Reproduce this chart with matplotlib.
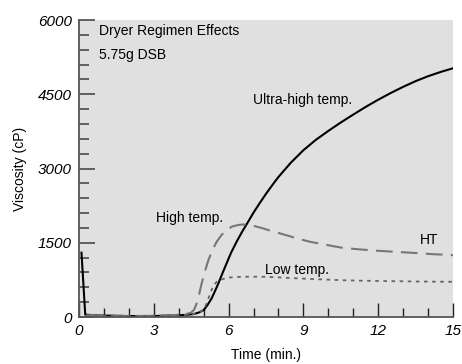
import numpy as np
import matplotlib.pyplot as plt
from matplotlib.ticker import MultipleLocator

# data
t_uht = [0.1, 0.25, 0.5, 1, 2, 3, 4, 4.3, 4.6, 4.8, 5.0, 5.15, 5.32, 5.45, 5.59, 5.75, 5.92, 6.1, 6.32, 6.55, 6.79, 7.0, 7.26, 7.5, 7.79, 8.0, 8.5, 9.0, 9.5, 10.0, 10.5, 11.0, 11.5, 12.0, 12.5, 13.0, 13.5, 14.0, 14.5, 15.0]
v_uht = [1300, 50, 40, 30, 20, 20, 35, 45, 60, 90, 140, 240, 377, 520, 680, 880, 1085, 1300, 1520, 1730, 1930, 2110, 2310, 2490, 2690, 2830, 3120, 3370, 3580, 3760, 3930, 4090, 4245, 4390, 4525, 4650, 4765, 4865, 4950, 5025]

t_ht = [0.3, 1, 2, 3, 4, 4.3, 4.5, 4.62, 4.72, 4.82, 4.92, 5.05, 5.19, 5.35, 5.52, 5.72, 5.92, 6.15, 6.39, 6.6, 6.86, 7.1, 7.39, 7.7, 8.06, 8.4, 8.73, 9.27, 10.0, 10.6, 11.3, 11.94, 12.6, 13.28, 14.2, 15.0]
v_ht = [40, 30, 20, 25, 45, 60, 90, 150, 275, 460, 680, 920, 1150, 1350, 1520, 1660, 1760, 1830, 1860, 1870, 1860, 1830, 1790, 1740, 1690, 1640, 1590, 1520, 1450, 1395, 1365, 1340, 1320, 1300, 1270, 1250]

t_lt = [0.3, 1, 2, 3, 4, 4.3, 4.6, 4.8, 5.0, 5.12, 5.25, 5.39, 5.52, 5.66, 5.85, 6.06, 6.4, 6.73, 7.3, 8.06, 8.6, 9.5, 10.5, 11.27, 12.5, 13.5, 15.0]
v_lt = [40, 30, 20, 25, 35, 45, 60, 90, 150, 275, 460, 640, 710, 750, 780, 800, 810, 815, 815, 800, 785, 765, 745, 735, 725, 718, 712]

fig = plt.figure(figsize=(4.62, 3.64), dpi=100)
ax = fig.add_axes([0.171, 0.129, 0.8095, 0.816])
ax.set_facecolor('#e0e0e0')

ax.plot(t_uht, v_uht, color='black', lw=1.5)
ax.plot(t_ht, v_ht, color='#777777', lw=1.5, dashes=(8, 4))
ax.plot(t_lt, v_lt, color='#666666', lw=1.3, dashes=(2, 2.5))

ax.set_xlim(0, 15)
ax.set_ylim(0, 6000)
ax.xaxis.set_major_locator(MultipleLocator(3))
ax.xaxis.set_minor_locator(MultipleLocator(1))
ax.yaxis.set_major_locator(MultipleLocator(1500))
ax.yaxis.set_minor_locator(MultipleLocator(300))

for s in ['top', 'right']:
    ax.spines[s].set_visible(False)
for s in ['left', 'bottom']:
    ax.spines[s].set_color('#555555')
    ax.spines[s].set_linewidth(1.3)

ax.tick_params(axis='y', which='major', direction='in', length=11.5, width=1.3, color='#555555', pad=5)
ax.tick_params(axis='y', which='minor', direction='in', length=7, width=1.3, color='#555555')
ax.tick_params(axis='x', which='major', direction='in', length=10, width=1.0, color='#222222', pad=5)
ax.tick_params(axis='x', which='minor', direction='in', length=6.5, width=1.0, color='#222222')

for lab in ax.get_xticklabels() + ax.get_yticklabels():
    lab.set_fontstyle('italic')
    lab.set_fontsize(11)
    lab.set_family('Liberation Sans')

ax.set_xlabel('Time (min.)', fontsize=10, family='Liberation Sans', labelpad=7)
ax.set_ylabel('Viscosity (cP)', fontsize=10, family='Liberation Sans', labelpad=8)

txt = dict(fontsize=10, family='Liberation Sans', va='center', ha='left')
ax.text(0.8, 5780, 'Dryer Regimen Effects', **txt)
ax.text(0.8, 5300, '5.75g DSB', **txt)
ax.text(6.98, 4380, 'Ultra-high temp.', **txt)
ax.text(3.09, 2000, 'High temp.', **txt)
ax.text(13.68, 1560, 'HT', **txt)
ax.text(7.46, 950, 'Low temp.', **txt)

fig.savefig('out.png', dpi=100)
